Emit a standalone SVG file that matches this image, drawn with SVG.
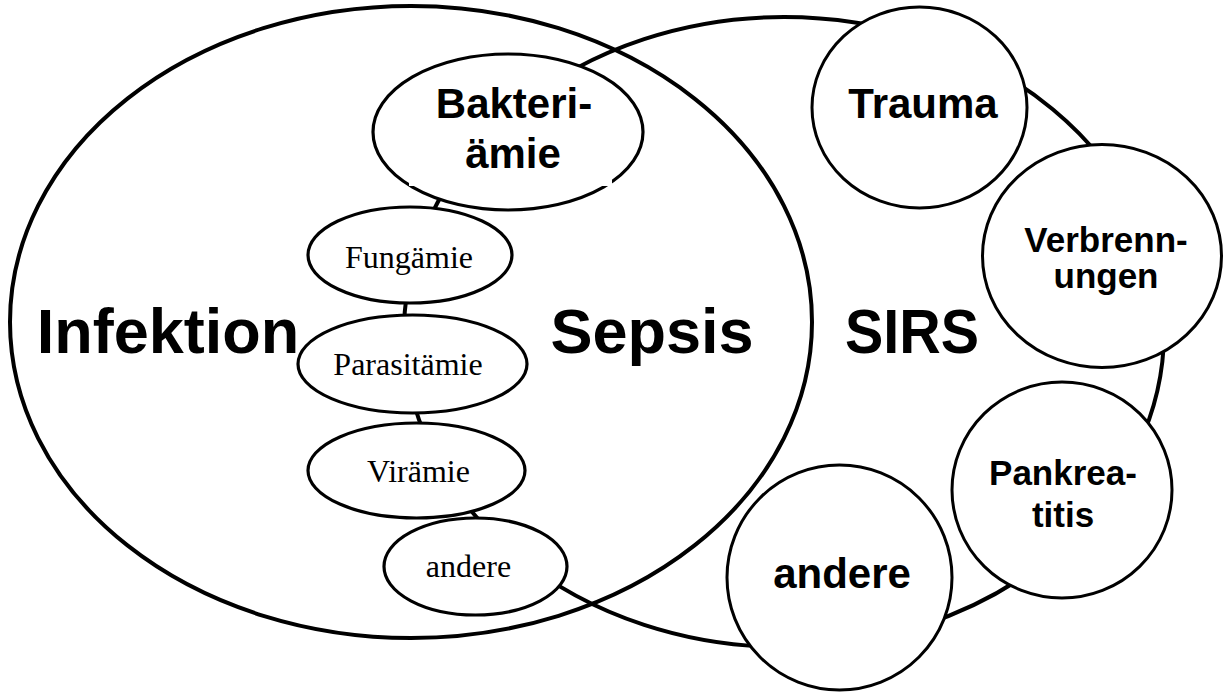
<svg xmlns="http://www.w3.org/2000/svg" width="1225" height="693" viewBox="0 0 1225 693">
<style>
.set{fill:none;stroke:#000;stroke-width:4}
.sm{fill:#fff;stroke:#000;stroke-width:3.2}
.cir{fill:#fff;stroke:#000;stroke-width:3}
.big{font-family:"Liberation Sans",Arial,sans-serif;font-weight:bold;font-size:63px;text-anchor:middle;fill:#000}
.lab{font-family:"Liberation Sans",Arial,sans-serif;font-weight:bold;font-size:42px;text-anchor:middle;fill:#000}
.lab2{font-family:"Liberation Sans",Arial,sans-serif;font-weight:bold;font-size:35px;text-anchor:middle;fill:#000}
.ser{font-family:"Liberation Serif","Times New Roman",serif;font-size:32px;text-anchor:middle;fill:#000}
</style>
<rect width="1225" height="693" fill="#fff"/>
<g id="infektion">
<ellipse class="set" cx="411" cy="322" rx="401" ry="316"/>
<text class="big" x="168" y="353">Infektion</text>
</g>
<g id="sirs">
<ellipse class="set" cx="784" cy="332" rx="380" ry="315"/>
<text class="big" x="845" y="353" style="text-anchor:start" textLength="134" lengthAdjust="spacingAndGlyphs">SIRS</text>
</g>
<g id="sepsis">
<text class="big" x="652" y="353">Sepsis</text>
</g>
<g id="bakteriaemie">
<ellipse class="sm" cx="508" cy="132" rx="135" ry="78"/>
<rect x="409" y="100" width="203" height="86" fill="#fff"/>
<text class="lab" x="514" y="118">Bakteri-</text>
<text class="lab" x="513" y="168">ämie</text>
</g>
<g id="fungaemie">
<ellipse class="sm" cx="410" cy="255" rx="102" ry="48"/>
<text class="ser" x="409" y="268">Fungämie</text>
</g>
<g id="parasitaemie">
<ellipse class="sm" cx="412.5" cy="364" rx="114.5" ry="49"/>
<text class="ser" x="408" y="375">Parasitämie</text>
</g>
<g id="viraemie">
<ellipse class="sm" cx="416.5" cy="470.5" rx="108.5" ry="47.5"/>
<text class="ser" x="418.5" y="482">Virämie</text>
</g>
<g id="andere-klein">
<ellipse class="sm" cx="475.5" cy="566.5" rx="91.5" ry="48.5"/>
<text class="ser" x="468.5" y="577">andere</text>
</g>
<g id="trauma">
<ellipse class="cir" cx="919.5" cy="107.5" rx="107.5" ry="100.5"/>
<text class="lab" x="923" y="118">Trauma</text>
</g>
<g id="verbrennungen">
<ellipse class="cir" cx="1102" cy="256" rx="119.5" ry="111.5"/>
<text class="lab2" x="1106" y="252">Verbrenn-</text>
<text class="lab2" x="1106" y="288">ungen</text>
</g>
<g id="pankreatitis">
<ellipse class="cir" cx="1062" cy="490" rx="110" ry="108"/>
<text class="lab2" x="1063" y="485">Pankrea-</text>
<text class="lab2" x="1063" y="527">titis</text>
</g>
<g id="andere">
<circle class="cir" cx="839.5" cy="577.5" r="112.5"/>
<text class="lab" x="842" y="588">andere</text>
</g>
</svg>
